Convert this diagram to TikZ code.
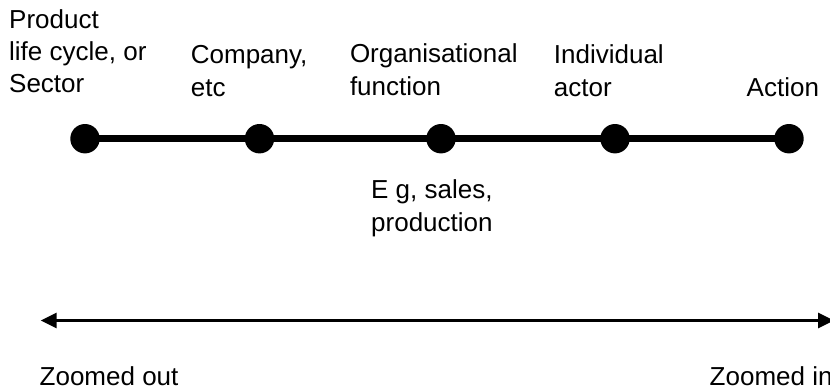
\documentclass[tikz,border=0pt]{standalone}
\usepackage{fontspec}
\setmainfont{Liberation Sans}
\usetikzlibrary{arrows.meta}
\begin{document}
\begin{tikzpicture}[x=1bp,y=-1bp,
  dot/.style={circle,fill=black,draw=none,minimum size=29.4bp,inner sep=0pt},
  lbl/.style={anchor=north west,inner sep=0pt,align=left,
    font=\fontsize{26bp}{32.5bp}\selectfont},
  spine/.style={line width=7bp},
  scale arrow/.style={line width=3bp,{Triangle[length=16bp,width=15bp]}-{Triangle[length=16bp,width=15bp]}}]
\useasboundingbox (0,0) rectangle (830,390);
\newcommand{\fl}{\rule{0pt}{20bp}}
% dots
\node[dot] (d1) at (85,138.7) {};
\node[dot] (d2) at (259.5,138.7) {};
\node[dot] (d3) at (441,138.7) {};
\node[dot] (d4) at (615,138.7) {};
\node[dot] (d5) at (789,138.7) {};
\draw[spine] (d1.center) -- (d2.center) -- (d3.center) -- (d4.center) -- (d5.center);
% labels (top = first baseline - 20)
\node[lbl,font=\fontsize{26bp}{31.8bp}\selectfont] (l1) at (9,8.3) {\fl Product\\life cycle, or\\Sector};
\node[lbl] (l2) at (190.7,43.3) {\fl Company,\\etc};
\node[lbl] (l3) at (349.8,42.6) {\fl Organisational\\function};
\node[lbl] (l4) at (553.7,43.3) {\fl Individual\\actor};
\node[lbl] (l5) at (746.5,76) {\fl Action};
\node[lbl,font=\fontsize{26bp}{33.3bp}\selectfont] (l6) at (371,178.3) {\fl E g, sales,\\production};
% scale arrow
\coordinate (aL) at (40.7,320.5);
\coordinate (aR) at (834,320.5);
\draw[scale arrow] (aL) -- (aR);
\node[lbl] (zo) at (39.5,365.5) {\fl Zoomed out};
\node[lbl] (zi) at (709.5,365.5) {\fl Zoomed in};
\end{tikzpicture}
\end{document}
